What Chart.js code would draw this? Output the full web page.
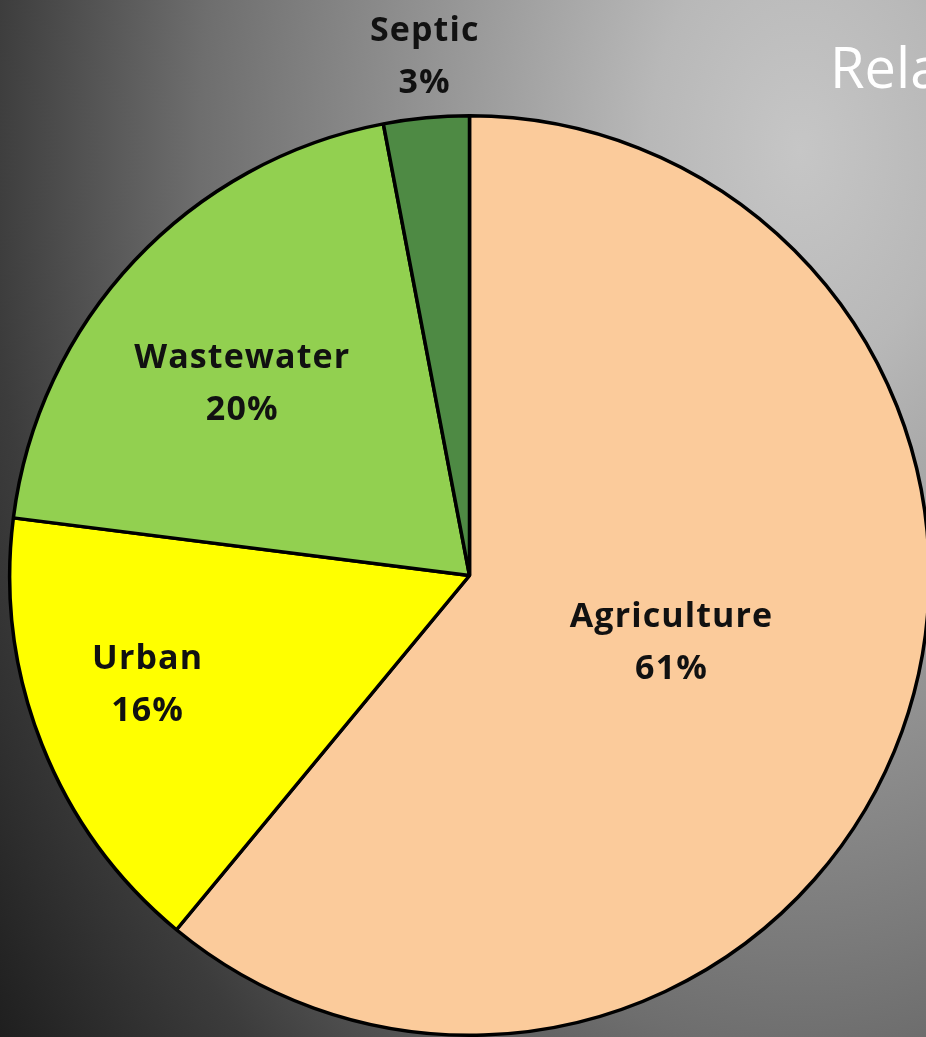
<!DOCTYPE html>
<html>
<head>
<meta charset="utf-8">
<script src="https://cdn.jsdelivr.net/npm/chart.js@4/dist/chart.umd.min.js"></script>
<style>
    html, body {
        margin: 0;
        padding: 0;
        width: 926px;
        height: 1037px;
        overflow: hidden;
    }
    body {
        position: relative;
        background: radial-gradient(ellipse 1000px 1500px at 800px 150px,
            #c6c6c6 0%, #b8b8b8 15%, #7a7a7a 53%, #6e6e6e 60%, #3c3c3c 81%, #1e1e1e 100%);
    }
    #title {
        position: absolute;
        left: 830px;
        top: 38px;
        font-family: 'Open Sans', sans-serif;
        font-size: 56px;
        line-height: 1;
        color: #ffffff;
        white-space: nowrap;
    }
    #chartBox {
        position: absolute;
        left: 0;
        top: 0;
    }
</style>
</head>
<body>
<div id="title">Rela</div>
<div id="chartBox">
    <canvas id="sourcesChart" width="940" height="1040"></canvas>
</div>
<script>
const categories = ['Agriculture', 'Urban', 'Wastewater', 'Septic'];
const shares = [61, 16, 20, 3];
const sliceColors = ['#fbcb9b', '#ffff00', '#92d050', '#4e8a44'];

// label placement: fraction of the radius, and a small turn (degrees) off the mid angle
const labelRadius = [0.461, 0.737, 0.652, 1.141];
const labelTurn = [-2.2, 3.4, -2.5, 0.5];

const sliceLabels = {
    id: 'sliceLabels',
    afterDraw(chart) {
        const ctx = chart.ctx;
        const arcs = chart.getDatasetMeta(0).data;
        ctx.save();
        ctx.font = "bold 34px 'Open Sans', sans-serif";
        ctx.letterSpacing = '1.1px';
        ctx.fillStyle = '#111111';
        ctx.textAlign = 'center';
        ctx.textBaseline = 'middle';
        arcs.forEach((arc, i) => {
            const p = arc.getProps(['x', 'y', 'startAngle', 'endAngle', 'outerRadius'], true);
            const mid = (p.startAngle + p.endAngle) / 2 + labelTurn[i] * Math.PI / 180;
            const r = p.outerRadius * labelRadius[i];
            const cx = p.x + Math.cos(mid) * r;
            const cy = p.y + Math.sin(mid) * r + 4;
            ctx.fillText(categories[i], cx, cy - 26);
            ctx.fillText(shares[i] + '%', cx, cy + 26);
        });
        ctx.restore();
    }
};

const chart = new Chart(document.getElementById('sourcesChart').getContext('2d'), {
    type: 'pie',
    data: {
        labels: categories,
        datasets: [{
            data: shares,
            backgroundColor: sliceColors,
            borderColor: '#000000',
            borderWidth: 3.5,
            hoverOffset: 0
        }]
    },
    options: {
        responsive: false,
        animation: false,
        layout: {
            padding: { left: 8, right: 9, top: 114, bottom: 3 }
        },
        plugins: {
            legend: { display: false },
            tooltip: { enabled: false }
        }
    },
    plugins: [sliceLabels]
});
</script>
</body>
</html>
